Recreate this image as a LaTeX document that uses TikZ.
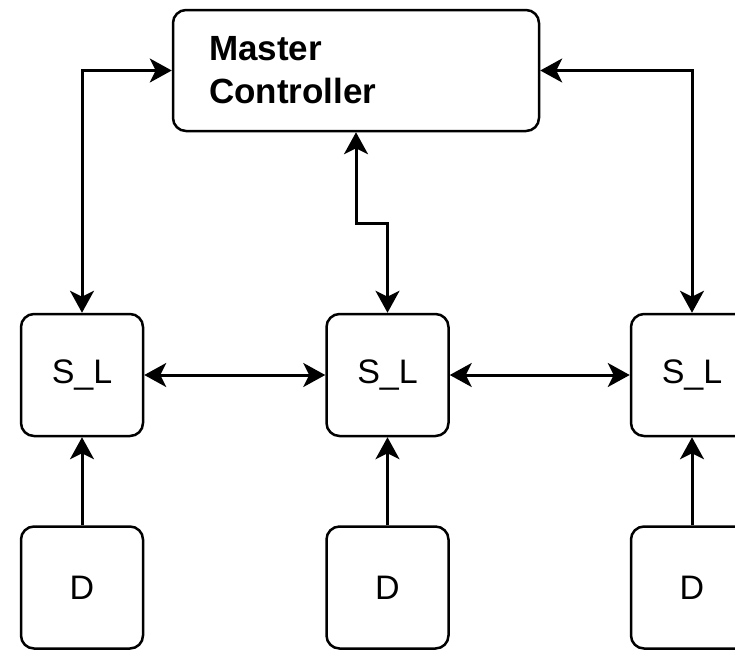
\documentclass[tikz,border=0pt]{standalone}
\usepackage{fontspec}
\setmainfont{Liberation Sans}
\usetikzlibrary{arrows.meta}

\tikzset{
    box/.style={draw, line width=2.5pt, rounded corners=13pt, minimum width=122pt, minimum height=122pt, inner sep=0pt, font=\fontsize{34}{40}\selectfont},
    link/.style={line width=3pt, -{Stealth[length=22pt,width=24pt,inset=6pt]}},
    both/.style={line width=3pt, {Stealth[length=22pt,width=24pt,inset=6pt]}-{Stealth[length=22pt,width=24pt,inset=6pt]}}
}

\begin{document}
\begin{tikzpicture}[x=1pt,y=-1pt]
            \useasboundingbox (0,0) rectangle (735,651);
            \clip (0,0) rectangle (735,651);

            \node (mc) at (356,70.5) [box, minimum width=366pt, minimum height=121pt, text width=294pt, inner xsep=36pt, align=left, font=\bfseries\fontsize{35}{43}\selectfont] {Master\\Controller};

            \node (sl1) at (82,375) [box] {S\_L};
            \node (sl2) at (387.5,375) [box] {S\_L};
            \node (sl3) at (692,375) [box] {S\_L};

            \node (d1) at (82,587.5) [box] {D};
            \node (d2) at (387.5,587.5) [box] {D};
            \node (d3) at (692,587.5) [box] {D};

            \draw[both] (mc.west) -| (sl1.north);
            \draw[both] (mc.east) -| (sl3.north);
            \draw[both] (mc.south) -- ++(0,91) -| (sl2.north);

            \draw[both] (sl1.east) -- (sl2.west);
            \draw[both] (sl2.east) -- (sl3.west);

            \draw[link] (d1.north) -- (sl1.south);
            \draw[link] (d2.north) -- (sl2.south);
            \draw[link] (d3.north) -- (sl3.south);
        \end{tikzpicture}
\end{document}
